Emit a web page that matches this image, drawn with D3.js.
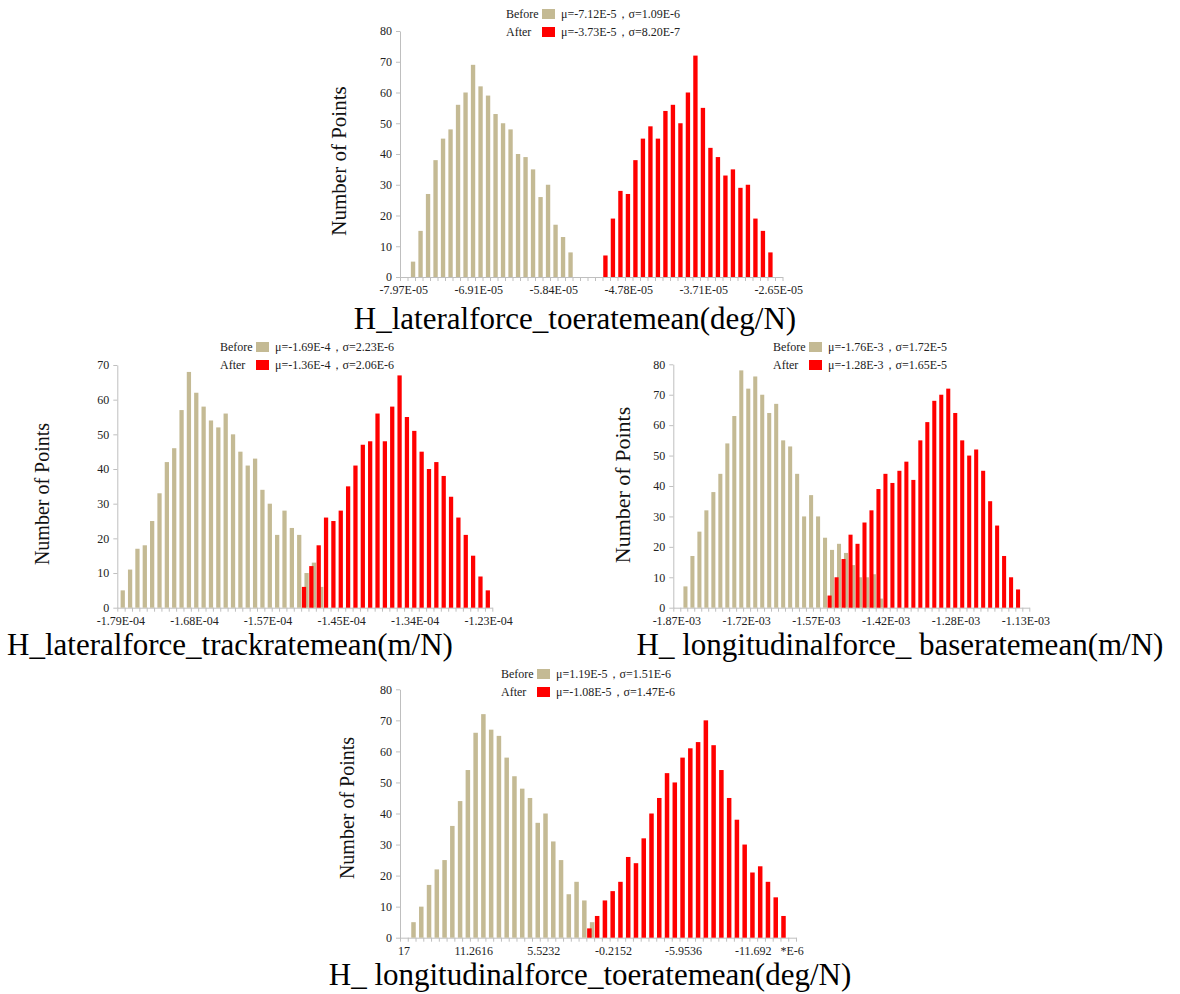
<!DOCTYPE html>
<html lang="en">
<head>
<meta charset="utf-8" />
<title>Before / After histograms</title>
<script src="https://cdn.jsdelivr.net/npm/d3@7"></script>
<style>
  body { margin: 0; background: #fff; }
  text { font-family: "Liberation Serif", "Times New Roman", serif; }
</style>
</head>
<body>
<div id="chart"></div>
<script>
// bin counts; *Start is the index of the first bin with data
var p1Before = [5, 15, 27, 38, 45, 48, 56, 60, 69, 62, 59, 53, 50, 48, 40, 39, 35, 26, 30, 17, 13, 8];
var p1BeforeStart = 1;
var p1After = [7, 19, 28, 27, 38, 45, 49, 45, 54, 56, 50, 60, 72, 55, 42, 39, 33, 35, 29, 30, 19, 15, 8];
var p1AfterStart = 27;
var p1Ticks = ["-7.97E-05", "-6.91E-05", "-5.84E-05", "-4.78E-05", "-3.71E-05", "-2.65E-05"];
var p1Stats = ["\u03bc=-7.12E-5\uff0c\u03c3=1.09E-6", "\u03bc=-3.73E-5\uff0c\u03c3=8.20E-7"];

var p2Before = [5, 11, 17, 18, 25, 33, 42, 46, 57, 68, 62, 58, 54, 52, 56, 50, 45, 41, 43, 34, 30, 21, 28, 23, 21, 10, 13, 6];
var p2BeforeStart = 0;
var p2After = [6, 12, 18, 26, 25, 28, 35, 41, 47, 48, 56, 48, 58, 67, 55, 51, 45, 40, 42, 38, 32, 26, 21, 15, 9, 5];
var p2AfterStart = 25;
var p2Ticks = ["-1.79E-04", "-1.68E-04", "-1.57E-04", "-1.45E-04", "-1.34E-04", "-1.23E-04"];
var p2Stats = ["\u03bc=-1.69E-4\uff0c\u03c3=2.23E-6", "\u03bc=-1.36E-4\uff0c\u03c3=2.06E-6"];

var p3Before = [7, 17, 25, 32, 38, 44, 54, 63, 78, 72, 76, 70, 64, 67, 55, 53, 44, 30, 37, 30, 23, 19, 21, 18, 14, 10, 10, 11, 3];
var p3BeforeStart = 1;
var p3After = [4, 10, 16, 24, 21, 28, 32, 39, 44, 41, 45, 48, 42, 55, 61, 68, 70, 72, 64, 55, 50, 52, 45, 35, 27, 17, 10, 6];
var p3AfterStart = 22;
var p3Ticks = ["-1.87E-03", "-1.72E-03", "-1.57E-03", "-1.42E-03", "-1.28E-03", "-1.13E-03"];
var p3Stats = ["\u03bc=-1.76E-3\uff0c\u03c3=1.72E-5", "\u03bc=-1.28E-3\uff0c\u03c3=1.65E-5"];

var p4Before = [5, 10, 17, 22, 25, 36, 44, 54, 66, 72, 67, 65, 58, 52, 48, 45, 37, 40, 31, 25, 14, 18, 12, 5];
var p4BeforeStart = 1;
var p4After = [3, 7, 12, 15, 18, 26, 24, 32, 40, 45, 53, 50, 58, 61, 63, 70, 62, 54, 45, 38, 30, 21, 23, 18, 13, 7];
var p4AfterStart = 24;
var p4Ticks = ["17", "11.2616", "5.5232", "-0.2152", "-5.9536", "-11.692"];
var p4Unit = "*E-6";
var p4Stats = ["\u03bc=1.19E-5\uff0c\u03c3=1.51E-6", "\u03bc=-1.08E-5\uff0c\u03c3=1.47E-6"];

var seriesNames = ["Before", "After"];
var binCount = 51;

var tan = "#c4ba94", red = "#ff0000", axisGray = "#bfbfbf";

var svg = d3.select("#chart").append("svg")
  .attr("width", 1180)
  .attr("height", 994);

function drawPanel(cfg) {
  var g = svg.append("g");
  var x = d3.scaleBand().domain(d3.range(binCount)).range([cfg.x0, cfg.x0 + cfg.w]).padding(0);
  var xb = d3.scaleLinear().domain([0, binCount]).range([cfg.x0, cfg.x0 + cfg.w]);
  var y = d3.scaleLinear().domain([0, cfg.ymax]).range([cfg.y0, cfg.y0 - cfg.h]);
  var bw = x.bandwidth();

  // y axis
  var ya = g.append("g")
    .attr("transform", "translate(" + cfg.x0 + ",0)")
    .call(d3.axisLeft(y).tickValues(d3.range(0, cfg.ymax + 1, 10)).tickSize(4).tickSizeOuter(0).tickPadding(4));
  // x axis tick marks sit on the bin boundaries
  var xa = g.append("g")
    .attr("transform", "translate(0," + cfg.y0 + ")")
    .call(d3.axisBottom(xb).tickValues(d3.range(binCount + 1)).tickSize(4).tickSizeOuter(0).tickFormat(""));
  [ya, xa].forEach(function (a) {
    a.select(".domain").attr("stroke", axisGray);
    a.selectAll(".tick line").attr("stroke", axisGray);
  });
  ya.selectAll("text").attr("font-size", 12).attr("fill", "#222")
    .style("font-family", '"Liberation Serif", serif');

  // category labels
  g.selectAll(".xl").data(cfg.ticks).enter().append("text")
    .attr("x", function (d, i) { return x(i * cfg.every) + bw / 2; })
    .attr("y", cfg.y0 + 17)
    .attr("text-anchor", "middle")
    .attr("font-size", 12)
    .attr("fill", "#222")
    .text(function (d) { return d; });
  if (cfg.unit) {
    g.append("text")
      .attr("x", x(binCount - 1) + bw / 2)
      .attr("y", cfg.y0 + 17)
      .attr("text-anchor", "middle")
      .attr("font-size", 12)
      .attr("fill", "#222")
      .text(cfg.unit);
  }

  // bars: before first, after on top, shifted like Excel's clustered columns
  var barW = bw * 0.58;
  g.selectAll(".b").data(cfg.before).enter().append("rect")
    .attr("x", function (d, i) { return x(cfg.beforeStart + i) + bw * 0.45; })
    .attr("y", function (d) { return y(d); })
    .attr("width", barW)
    .attr("height", function (d) { return cfg.y0 - y(d); })
    .attr("fill", tan);
  g.selectAll(".a").data(cfg.after).enter().append("rect")
    .attr("x", function (d, i) { return x(cfg.afterStart + i) + bw * 0.1; })
    .attr("y", function (d) { return y(d); })
    .attr("width", barW)
    .attr("height", function (d) { return cfg.y0 - y(d); })
    .attr("fill", red);

  // legend
  var colors = [tan, red];
  seriesNames.forEach(function (name, i) {
    var ly = cfg.legendY + i * 18;
    g.append("text").attr("x", cfg.legendX).attr("y", ly + 4).attr("font-size", 12).attr("fill", "#222").text(name);
    g.append("rect").attr("x", cfg.legendX + 36).attr("y", ly - 5).attr("width", 13).attr("height", 10).attr("fill", colors[i]);
    g.append("text").attr("x", cfg.legendX + 55).attr("y", ly + 4).attr("font-size", 12).attr("fill", "#222").text(cfg.stats[i]);
  });

  // y label
  g.append("text")
    .attr("transform", "translate(" + cfg.ylabX + "," + cfg.ylabY + ") rotate(-90)")
    .attr("text-anchor", "middle")
    .attr("dominant-baseline", "central")
    .attr("font-size", cfg.ylabSize)
    .attr("fill", "#111")
    .text("Number of Points");

  // title
  g.append("text")
    .attr("x", cfg.titleX)
    .attr("y", cfg.titleY)
    .attr("text-anchor", "middle")
    .attr("font-size", 31)
    .attr("fill", "#000")
    .text(cfg.title);
}

drawPanel({
  before: p1Before, beforeStart: p1BeforeStart, after: p1After, afterStart: p1AfterStart,
  ticks: p1Ticks, every: 10, stats: p1Stats,
  x0: 400, y0: 277, w: 382.5, h: 246, ymax: 80,
  legendX: 506, legendY: 14, ylabX: 339, ylabY: 161, ylabSize: 21,
  title: "H_lateralforce_toeratemean(deg/N)", titleX: 575, titleY: 329
});
drawPanel({
  before: p2Before, beforeStart: p2BeforeStart, after: p2After, afterStart: p2AfterStart,
  ticks: p2Ticks, every: 10, stats: p2Stats,
  x0: 117.3, y0: 607.7, w: 375, h: 242.7, ymax: 70,
  legendX: 220, legendY: 347, ylabX: 42, ylabY: 494, ylabSize: 20,
  title: "H_lateralforce_trackratemean(m/N)", titleX: 230, titleY: 655
});
drawPanel({
  before: p3Before, beforeStart: p3BeforeStart, after: p3After, afterStart: p3AfterStart,
  ticks: p3Ticks, every: 10, stats: p3Stats,
  x0: 673.3, y0: 607.7, w: 356, h: 243.4, ymax: 80,
  legendX: 773, legendY: 347, ylabX: 622, ylabY: 485, ylabSize: 22,
  title: "H_ longitudinalforce_ baseratemean(m/N)", titleX: 900, titleY: 655
});
drawPanel({
  before: p4Before, beforeStart: p4BeforeStart, after: p4After, afterStart: p4AfterStart,
  ticks: p4Ticks, every: 9, unit: p4Unit, stats: p4Stats,
  x0: 400, y0: 937.7, w: 396, h: 248.4, ymax: 80,
  legendX: 501, legendY: 674, ylabX: 347, ylabY: 808, ylabSize: 20,
  title: "H_ longitudinalforce_toeratemean(deg/N)", titleX: 590, titleY: 985
});
</script>
</body>
</html>
